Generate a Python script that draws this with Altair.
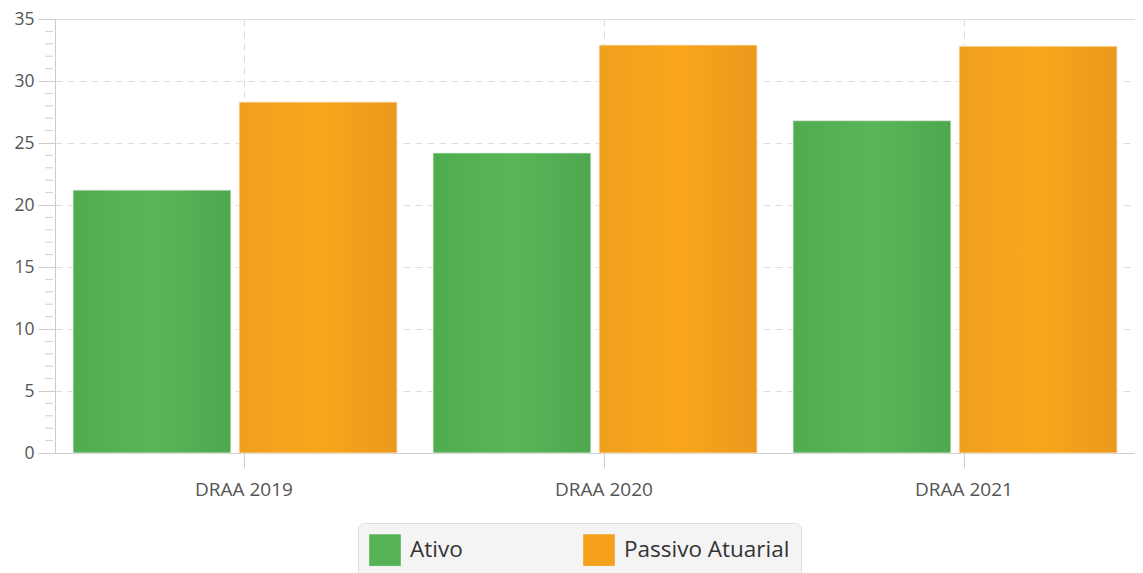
import altair as alt
import pandas as pd

categories = ["DRAA 2019", "DRAA 2020", "DRAA 2021"]
series = ["Ativo", "Passivo Atuarial"]
ativo = [21.2, 24.2, 26.8]
passivo = [28.3, 32.9, 32.8]
minor_ticks = [v for v in range(0, 36) if v % 5 != 0]

rows = []
for c, a, p in zip(categories, ativo, passivo):
    rows.append({"cat": c, "serie": "Ativo", "valor": a})
    rows.append({"cat": c, "serie": "Passivo Atuarial", "valor": p})
df = pd.DataFrame(rows)
ticks_df = pd.DataFrame({"v": minor_ticks})

FONT = "Open Sans"
GREEN = "#55b255"
ORANGE = "#f6a11c"

yscale = alt.Scale(domain=[0, 35], nice=False)

x_enc = alt.X("cat:N", sort=categories, title=None,
              scale=alt.Scale(paddingInner=0.1, paddingOuter=0.05),
              axis=alt.Axis(labelAngle=0, labelFontSize=19, labelColor="#555555",
                            labelFont=FONT, labelPadding=12, labelOffset=9, tickSize=15,
                            tickColor="#cccccc", domainColor="#cccccc",
                            bandPosition=0.53, grid=True, gridDash=[7, 5],
                            gridColor="#dddddd"))
xo_enc = alt.XOffset("serie:N", sort=series, scale=alt.Scale(paddingInner=0.05))
y_enc = alt.Y("valor:Q", scale=yscale, title=None,
              axis=alt.Axis(values=[0, 5, 10, 15, 20, 25, 30, 35], labelFontSize=17.5,
                            labelColor="#555555", labelFont=FONT, tickSize=17,
                            labelPadding=4, tickColor="#cccccc", domainColor="#cccccc",
                            grid=True, gridDash=[7, 5], gridColor="#dddddd"))

base = alt.Chart(df).encode(x=x_enc, xOffset=xo_enc, y=y_enc)

bars = base.mark_bar().encode(
    color=alt.Color("serie:N", sort=series,
                    scale=alt.Scale(domain=series, range=[GREEN, ORANGE]),
                    legend=alt.Legend(title=None, orient="none", legendX=303, legendY=504,
                                      direction="horizontal", symbolType="square",
                                      symbolSize=1000, symbolStrokeWidth=0,
                                      labelFontSize=22.5, labelFont=FONT, labelColor="#333333",
                                      labelOffset=9, fillColor="#f4f4f4",
                                      strokeColor="#dddddd", cornerRadius=6, padding=11,
                                      columnPadding=7, gridAlign="all", labelLimit=300))
)

green_grad = alt.Gradient(gradient="linear", x1=0, x2=1, y1=0, y2=0, stops=[
    alt.GradientStop(color="#4fac4f", offset=0),
    alt.GradientStop(color="#58b658", offset=0.5),
    alt.GradientStop(color="#4ea84e", offset=1)])
orange_grad = alt.Gradient(gradient="linear", x1=0, x2=1, y1=0, y2=0, stops=[
    alt.GradientStop(color="#efa01e", offset=0),
    alt.GradientStop(color="#f9a61c", offset=0.5),
    alt.GradientStop(color="#eb991c", offset=1)])

g_over = base.mark_bar(fill=green_grad, stroke="#e8f3e8", strokeWidth=0.8).transform_filter(
    alt.datum.serie == "Ativo")
o_over = base.mark_bar(fill=orange_grad, stroke="#fdebd0", strokeWidth=0.8).transform_filter(
    alt.datum.serie == "Passivo Atuarial")

minor = alt.Chart(ticks_df).mark_rule(color="#d0d0d0", strokeWidth=1).encode(
    y=alt.Y("v:Q", scale=yscale),
    x=alt.value(-10), x2=alt.value(-2))

chart = alt.layer(bars, g_over, o_over, minor).properties(
    width=1080, height=434,
    autosize=alt.AutoSizeParams(type="none"),
    padding={"left": 47, "top": 11, "right": 0, "bottom": 120},
).configure_view(stroke=None).configure(font=FONT)

chart.save("out.html", embed_options={"renderer": "svg", "actions": False})
